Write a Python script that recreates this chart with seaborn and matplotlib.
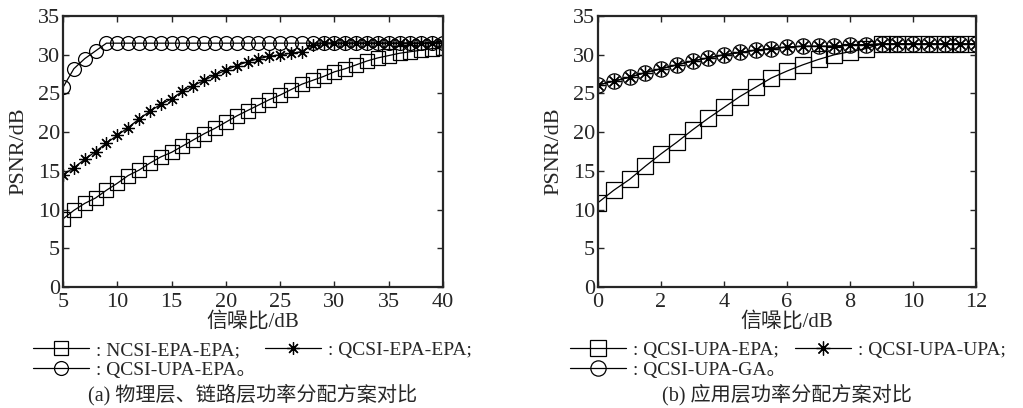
import matplotlib
matplotlib.use("Agg")
import matplotlib.pyplot as plt
import seaborn as sns
import numpy as np

# ---------------- data ----------------
# (a) physical / link layer power allocation
snr_a = list(range(5, 41))
ncsi_epa_epa = [8.8, 9.9, 10.8, 11.5, 12.5, 13.4, 14.4, 15.1, 16.0, 16.8,
                17.4, 18.2, 19.0, 19.8, 20.5, 21.3, 22.1, 22.8, 23.5, 24.2,
                24.8, 25.5, 26.2, 26.7, 27.2, 27.8, 28.2, 28.7, 29.2, 29.6,
                29.9, 30.2, 30.4, 30.6, 30.8, 30.9]
qcsi_epa_epa = [14.5, 15.4, 16.5, 17.5, 18.6, 19.6, 20.6, 21.7, 22.7, 23.6,
                24.3, 25.3, 26.0, 26.7, 27.4, 28.0, 28.6, 29.1, 29.5, 29.8,
                30.0, 30.2, 30.4, 31.3, 31.5, 31.5, 31.5, 31.5, 31.5, 31.5,
                31.5, 31.5, 31.5, 31.5, 31.5, 31.5]
qcsi_upa_epa = [25.8, 28.2, 29.5, 30.5, 31.5, 31.5, 31.5, 31.5, 31.5, 31.5,
                31.5, 31.5, 31.5, 31.5, 31.5, 31.5, 31.5, 31.5, 31.5, 31.5,
                31.5, 31.5, 31.5, 31.5, 31.5, 31.5, 31.5, 31.5, 31.5, 31.5,
                31.5, 31.5, 31.5, 31.5, 31.5, 31.5]

# (b) application layer power allocation
snr_b = [i * 0.5 for i in range(25)]
qcsi_upa_epa_b = [10.9, 12.5, 13.9, 15.6, 17.2, 18.7, 20.3, 21.8, 23.2, 24.6,
                  25.8, 27.0, 27.9, 28.7, 29.4, 30.0, 30.4, 30.8, 31.4, 31.4,
                  31.4, 31.4, 31.4, 31.4, 31.4]
qcsi_upa_upa = [26.1, 26.6, 27.1, 27.7, 28.2, 28.7, 29.2, 29.6, 30.0, 30.3,
                30.6, 30.8, 31.0, 31.1, 31.1, 31.1, 31.3, 31.3, 31.4, 31.4,
                31.4, 31.4, 31.4, 31.4, 31.4]
qcsi_upa_ga = [26.1, 26.6, 27.1, 27.7, 28.2, 28.7, 29.2, 29.6, 30.0, 30.3,
               30.6, 30.8, 31.0, 31.1, 31.1, 31.1, 31.3, 31.3, 31.4, 31.4,
               31.4, 31.4, 31.4, 31.4, 31.4]

labels_a = [": NCSI-EPA-EPA;", ": QCSI-UPA-EPA\u3002", ": QCSI-EPA-EPA;"]
labels_b = [": QCSI-UPA-EPA;", ": QCSI-UPA-GA\u3002", ": QCSI-UPA-UPA;"]
caption_a = "(a) 物理层、链路层功率分配方案对比"
caption_b = "(b) 应用层功率分配方案对比"

# ---------------- style ----------------
sns.set_style("ticks")
plt.rcParams['font.family'] = ['Liberation Serif', 'Noto Sans CJK SC']
plt.rcParams['font.size'] = 14
plt.rcParams['xtick.direction'] = 'in'
plt.rcParams['ytick.direction'] = 'in'
plt.rcParams['xtick.top'] = True
plt.rcParams['ytick.right'] = True
plt.rcParams['axes.linewidth'] = 1.6

fig = plt.figure(figsize=(10.23, 4.08), dpi=100)
ax1 = fig.add_axes([0.0616, 0.2966, 0.3715, 0.664])
ax2 = fig.add_axes([0.5846, 0.2966, 0.3695, 0.664])

asterisk = (8, 2, 0)


def draw(ax, x, y, marker, ms, label):
    sns.lineplot(x=x, y=y, ax=ax, color='k', linewidth=0.9, marker=marker,
                 markersize=ms, markerfacecolor='none', markeredgecolor='k',
                 markeredgewidth=0.9, label=label, legend=False)


draw(ax1, snr_a, ncsi_epa_epa, 's', 10, labels_a[0])
draw(ax1, snr_a, qcsi_upa_epa, 'o', 10, labels_a[1])
draw(ax1, snr_a, qcsi_epa_epa, asterisk, 9, labels_a[2])

draw(ax2, snr_b, qcsi_upa_epa_b, 's', 11, labels_b[0])
draw(ax2, snr_b, qcsi_upa_ga, 'o', 11, labels_b[1])
draw(ax2, snr_b, qcsi_upa_upa, asterisk, 10, labels_b[2])

panels = [(ax1, range(5, 41, 5), (5, 40), caption_a, labels_a, -0.079),
          (ax2, range(0, 13, 2), (0, 12), caption_b, labels_b, -0.074)]
for ax, xt, xlim, cap, lab, lx in panels:
    ax.set_xlim(*xlim)
    ax.set_ylim(0, 35)
    ax.set_xticks(list(xt))
    ax.set_yticks(range(0, 36, 5))
    ax.tick_params(length=4, width=1, labelsize=16)
    ax.tick_params(axis='x', pad=4)
    ax.tick_params(axis='y', pad=2)
    ax.set_xlabel("信噪比/dB", fontsize=15)
    ax.xaxis.set_label_coords(0.5, -0.092)
    ax.set_ylabel("PSNR/dB", fontsize=16, labelpad=7)
    handles = ax.get_lines()
    ax.legend(handles, lab, ncol=2, frameon=False, fontsize=14,
              loc='center left', bbox_to_anchor=(lx, -0.27),
              handlelength=2.9, handletextpad=0.35, columnspacing=0.45,
              labelspacing=0.1, borderpad=0, borderaxespad=0)
    ax.text(0.5, -0.3985, cap, transform=ax.transAxes, ha='center', va='center',
            fontsize=14.5)

fig.savefig("out.png", dpi=100, facecolor='white')
